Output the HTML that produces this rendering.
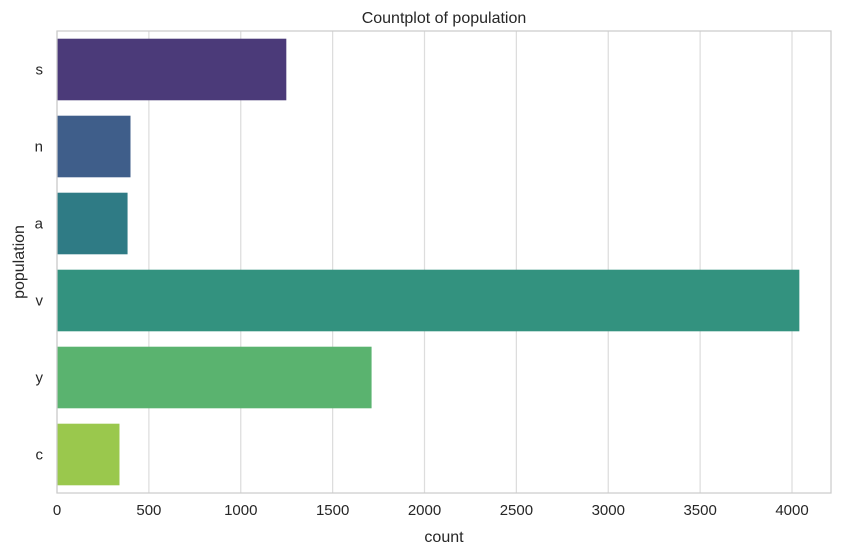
<!DOCTYPE html>
<html><head><meta charset="utf-8">
<style>
html,body{margin:0;padding:0;background:#fff;}
svg{display:block;font-family:"Liberation Sans","DejaVu Sans",sans-serif;}
</style></head>
<body>
<svg id="chart" width="841" height="556">
  <rect x="0" y="0" width="841" height="556" fill="#fff"/>
  <g id="grid"></g>
  <g id="bars"></g>
  <rect x="57" y="31" width="774" height="462" fill="none" stroke="#cccccc" stroke-width="1.25"/>
  <g id="xticks"></g>
  <g id="yticks"></g>
  <text x="444" y="23" text-anchor="middle" font-size="16" fill="#262626">Countplot of population</text>
  <text x="444" y="542" text-anchor="middle" font-size="16" fill="#262626">count</text>
  <text x="24" y="262" text-anchor="middle" font-size="16" fill="#262626" transform="rotate(-90 24 262)">population</text>
</svg>
<script>
const categories = ["s","n","a","v","y","c"];
const counts = [1248, 400, 384, 4040, 1712, 340];
const xTickValues = [0,500,1000,1500,2000,2500,3000,3500,4000];
const barColors = ["#4b3a79","#3f5e8a","#2f7b85","#33927f","#5ab36f","#9ac84d"];

const NS="http://www.w3.org/2000/svg";
const plotLeft=57, plotRight=831, plotTop=31, plotBottom=493;
const xScale = v => plotLeft + v*(792-57)/4000;
const band = (plotBottom-plotTop)/categories.length;
const yScale = i => plotTop + i*band;
const gridG=document.getElementById('grid'), barsG=document.getElementById('bars'),
      xtG=document.getElementById('xticks'), ytG=document.getElementById('yticks');
function mk(tag, attrs){const e=document.createElementNS(NS,tag);for(const k in attrs)e.setAttribute(k,attrs[k]);return e;}

xTickValues.forEach(v=>{
  const x=xScale(v);
  const l=mk('line',{x1:x,x2:x,y1:plotTop,y2:plotBottom,stroke:'#dddddd','stroke-width':1.25});
  
  
  gridG.appendChild(l);
  const t=mk('text',{x:x,y:plotBottom+22,'text-anchor':'middle','font-size':15,fill:'#262626'});
  t.textContent=v;
  
  
  xtG.appendChild(t);
});

categories.forEach((c,i)=>{
  const y=yScale(i)+band*0.1;
  const r=mk('rect',{x:xScale(0),y:y,width:xScale(counts[i])-xScale(0),height:band*0.8,fill:barColors[i]});
  
  
  barsG.appendChild(r);
  const t=mk('text',{x:plotLeft-14,y:yScale(i)+band/2+5,'text-anchor':'end','font-size':15,fill:'#262626'});
  t.textContent=c;
  
  
  ytG.appendChild(t);
});
</script>
</body></html>
